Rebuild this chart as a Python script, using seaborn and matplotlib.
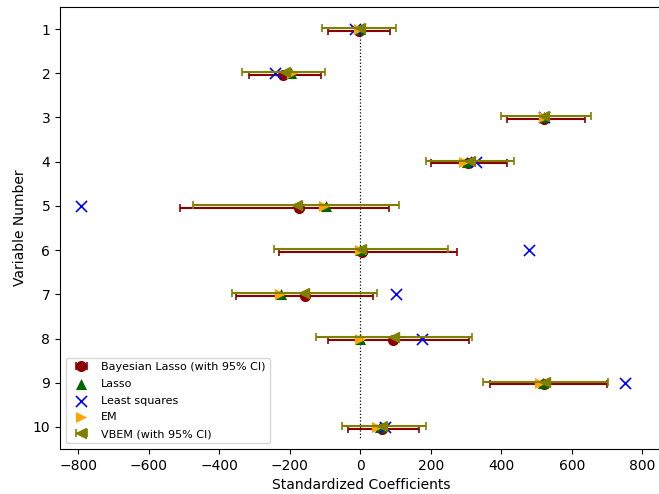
import numpy as np
import pandas as pd
import matplotlib
matplotlib.use("Agg")
import matplotlib.pyplot as plt
import seaborn as sns

# Standardized coefficients for the ten predictors
variables = np.arange(1, 11)

bayes = np.array([-3, -219, 521, 306, -175, 4, -156, 92, 522, 62])
bayes_lo = np.array([-93, -315, 416, 201, -513, -232, -352, -92, 367, -35])
bayes_hi = np.array([85, -113, 636, 416, 82, 275, 37, 309, 699, 167])

lasso = np.array([-2, -196, 522, 302, -98, 0, -225, 0, 518, 56])
least_squares = np.array([-14, -241, 520, 327, -792, 478, 100, 176, 752, 69])
em = np.array([-4, -195, 520, 293, -102, 0, -227, 0, 509, 48])

vbem = np.array([-2, -214, 522, 311, -181, 1, -160, 95, 525, 62])
vbem_lo = np.array([-110, -335, 398, 185, -476, -244, -363, -127, 349, -53])
vbem_hi = np.array([100, -101, 655, 435, 109, 250, 46, 317, 703, 185])

fig = plt.figure(figsize=(6.59, 4.94), dpi=100)
ax = fig.add_axes([60 / 659, 45 / 494, 603.5 / 659, 442 / 494])

# zero reference line
ax.vlines(0, 1, 10.25, colors="black", linestyles=":", linewidth=0.9, zorder=1)

ax.errorbar(bayes, variables + 0.04,
            xerr=[bayes - bayes_lo, bayes_hi - bayes],
            fmt="o", color="darkred", ecolor="darkred",
            markersize=7, capsize=3, elinewidth=1.5, capthick=1.2,
            label="Bayesian Lasso (with 95% CI)", zorder=2)

df_pts = pd.DataFrame({"var": variables, "lasso": lasso,
                       "ls": least_squares, "em": em})

sns.scatterplot(data=df_pts, x="lasso", y="var", marker="^", color="darkgreen",
                s=64, edgecolor="darkgreen", linewidth=0, ax=ax,
                label="Lasso", zorder=3)
sns.scatterplot(data=df_pts, x="ls", y="var", marker="x", color="blue",
                s=64, linewidth=1.2, ax=ax, label="Least squares", zorder=3)
sns.scatterplot(data=df_pts, x="em", y="var", marker=">", color="orange",
                s=64, edgecolor="orange", linewidth=0, ax=ax,
                label="EM", zorder=3)

ax.errorbar(vbem, variables - 0.025,
            xerr=[vbem - vbem_lo, vbem_hi - vbem],
            fmt="<", color="olive", ecolor="olive",
            markersize=7.5, capsize=3, elinewidth=1.5, capthick=1.2,
            label="VBEM (with 95% CI)", zorder=4)

ax.set_xlim(-852, 860)
ax.set_ylim(10.5, 0.5)
ax.set_yticks(variables)
ax.set_yticklabels([str(v) for v in variables])
ax.set_xticks(np.arange(-800, 801, 200))
ax.set_xlabel("Standardized Coefficients")
ax.set_ylabel("Variable Number")

handles, labels = ax.get_legend_handles_labels()
order = ["Bayesian Lasso (with 95% CI)", "Lasso", "Least squares", "EM",
         "VBEM (with 95% CI)"]
hmap = dict(zip(labels, handles))
ax.legend([hmap[k] for k in order], order, loc="lower left", fontsize=8,
          labelspacing=0.6)

fig.savefig("out.png", dpi=100)
